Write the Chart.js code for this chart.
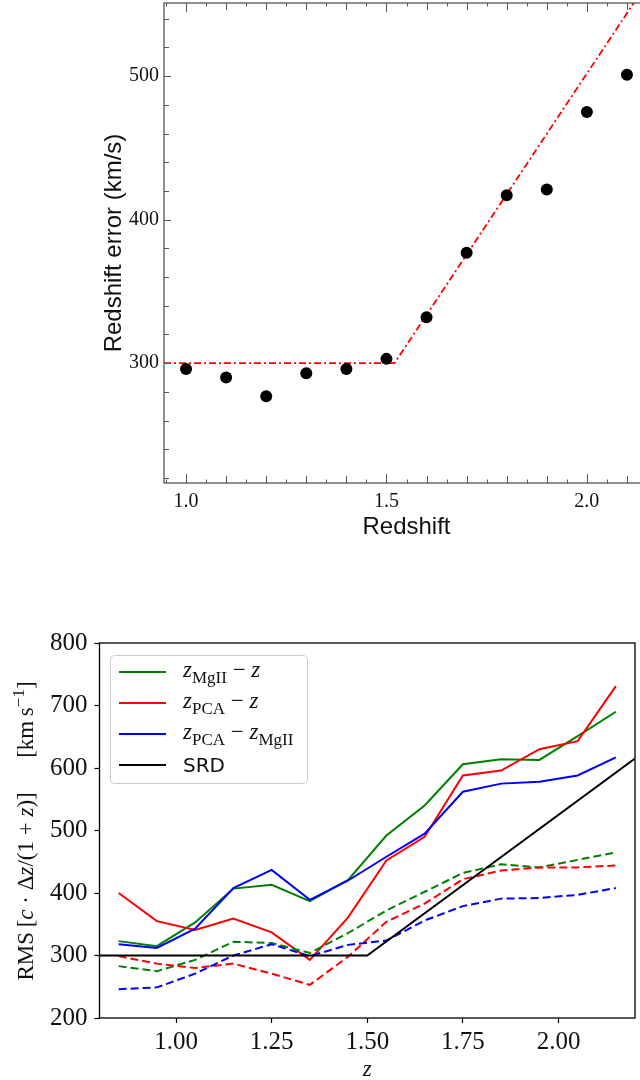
<!DOCTYPE html>
<html>
<head>
<meta charset="utf-8">
<script src="https://cdn.jsdelivr.net/npm/chart.js@4.4.0/dist/chart.umd.min.js"></script>
<style>
  body { margin: 0; background: #fff; width: 640px; height: 1080px; overflow: hidden; position: relative; }
  #wrapTop { position: absolute; left: 0; top: 0; width: 640px; height: 545px; overflow: hidden; }
  #wrapBot { position: absolute; left: 0; top: 545px; width: 640px; height: 535px; }
</style>
</head>
<body>
<div id="wrapTop"><canvas id="chartTop" width="660" height="545"></canvas></div>
<div id="wrapBot"><canvas id="chartBot" width="640" height="535"></canvas></div>
<script>
// top panel: redshift error vs redshift
const zTop = [1.0, 1.1, 1.2, 1.3, 1.4, 1.5, 1.6, 1.7, 1.8, 1.9, 2.0, 2.1];
const errTop = [296, 290, 277, 293, 296, 303, 332, 377, 417, 421, 475, 501];
const fitZ = [0.945, 1.52, 2.155];
const fitErr = [300, 300, 567];
const xTicksTop = [1.0, 1.5, 2.0];
const xLabelsTop = ['1.0', '1.5', '2.0'];
const yTicksTop = [300, 400, 500];
const yLabelsTop = ['300', '400', '500'];

// bottom panel: RMS per redshift bin
const zBins = [0.85, 0.95, 1.05, 1.15, 1.25, 1.35, 1.45, 1.55, 1.65, 1.75, 1.85, 1.95, 2.05, 2.15];
const rmsMgII = [323, 315, 353, 407, 413, 387, 421, 492, 540, 606, 614, 613, 651, 690];
const rmsPCA = [400, 355, 341, 359, 337, 293, 361, 452, 490, 588, 596, 630, 643, 731];
const rmsPCAMgII = [318, 312, 343, 408, 437, 389, 420, 458, 495, 562, 575, 578, 588, 617];
const rmsMgIIDash = [283, 275, 293, 322, 320, 304, 336, 372, 402, 432, 446, 441, 453, 465];
const rmsPCADash = [299, 287, 280, 287, 271, 253, 298, 354, 383, 422, 436, 441, 441, 444];
const rmsPCAMgIIDash = [246, 249, 271, 300, 318, 299, 317, 324, 356, 379, 391, 392, 397, 408];
const srdZ = [0.8, 1.5, 2.2];
const srdRms = [300, 300, 615];
const xTicksBot = [1.0, 1.25, 1.5, 1.75, 2.0];
const xLabelsBot = ['1.00', '1.25', '1.50', '1.75', '2.00'];
const yTicksBot = [200, 300, 400, 500, 600, 700, 800];
const yLabelsBot = ['200', '300', '400', '500', '600', '700', '800'];

const GREEN = '#008000', RED = '#ff0000', BLUE = '#0000ff';
const SERIF = '"Liberation Serif", "DejaVu Serif", serif';

function pts(xs, ys) {
  return xs.map((x, i) => ({ x: x, y: ys[i] }));
}

// draws a label made of pieces (italic, subscript, superscript)
function richWidth(ctx, parts, size) {
  let w = 0;
  parts.forEach(p => { ctx.font = partFont(p, size); w += ctx.measureText(p.t).width; });
  return w;
}
function partFont(p, size) {
  const small = p.s === 'sub' || p.s === 'sup';
  const sz = small ? Math.round(size * 0.72) : size;
  return (p.s === 'it' ? 'italic ' : '') + sz + 'px ' + SERIF;
}
function drawRich(ctx, parts, x, y, size) {
  let cx = x;
  parts.forEach(p => {
    ctx.font = partFont(p, size);
    let dy = 0;
    if (p.s === 'sub') dy = size * 0.28;
    if (p.s === 'sup') dy = -size * 0.4;
    ctx.fillText(p.t, cx, y + dy);
    cx += ctx.measureText(p.t).width;
  });
}

// no edge padding: the labels are not at the axis ends
function noPad(s) {
  s.paddingTop = 0; s.paddingBottom = 0; s.paddingLeft = 0; s.paddingRight = 0;
}

const topPlugin = {
  id: 'topFrame',
  afterDatasetsDraw(chart) {
    const { ctx, chartArea: a, scales: { x, y } } = chart;
    ctx.save();
    ctx.strokeStyle = '#555';
    ctx.lineWidth = 1.3;
    ctx.strokeRect(a.left, a.top, a.right - a.left, a.bottom - a.top);
    ctx.beginPath();
    ctx.lineWidth = 1;
    for (let i = 19; i <= 43; i++) {
      const v = i * 0.05;
      if (v < x.min || v > x.max) continue;
      const px = Math.round(x.getPixelForValue(v)) + 0.5;
      const len = i % 10 === 0 ? 9 : (i % 2 === 0 ? 7 : 3.5);
      ctx.moveTo(px, a.bottom); ctx.lineTo(px, a.bottom - len);
      ctx.moveTo(px, a.top); ctx.lineTo(px, a.top + len);
    }
    for (let v = 220; v <= 540; v += 20) {
      const py = Math.round(y.getPixelForValue(v)) + 0.5;
      const len = v % 100 === 0 ? 7 : 5;
      ctx.moveTo(a.left, py); ctx.lineTo(a.left + len, py);
      ctx.moveTo(a.right, py); ctx.lineTo(a.right - len, py);
    }
    ctx.stroke();

    ctx.fillStyle = '#111';
    ctx.font = '24px "Liberation Sans", Arial, sans-serif';
    ctx.textAlign = 'center';
    ctx.textBaseline = 'middle';
    ctx.fillText('Redshift', (a.left + a.right) / 2, a.bottom + 44);
    ctx.translate(114, (a.top + a.bottom) / 2);
    ctx.rotate(-Math.PI / 2);
    ctx.fillText('Redshift error (km/s)', 0, 0);
    ctx.restore();
  }
};

new Chart(document.getElementById('chartTop'), {
  type: 'scatter',
  data: {
    datasets: [
      {
        data: pts(zTop, errTop),
        pointRadius: 6,
        pointBackgroundColor: '#000',
        pointBorderWidth: 0,
        showLine: false
      },
      {
        data: pts(fitZ, fitErr),
        showLine: true,
        borderColor: RED,
        borderWidth: 1.8,
        borderDash: [7, 3, 2, 3],
        pointRadius: 0,
        tension: 0
      }
    ]
  },
  options: {
    responsive: false,
    animation: false,
    devicePixelRatio: 1,
    layout: { autoPadding: false, padding: { left: 0, right: 11, top: 3, bottom: 0 } },
    plugins: { legend: { display: false }, tooltip: { enabled: false } },
    scales: {
      x: {
        type: 'linear', min: 0.945, max: 2.155,
        afterBuildTicks: s => { s.ticks = xTicksTop.map(v => ({ value: v })); },
        afterFit: s => { s.height = 62; noPad(s); },
        grid: { display: false, drawTicks: false }, border: { display: false },
        ticks: {
          padding: 7, color: '#111', font: { family: SERIF, size: 20 },
          callback: (v, i) => xLabelsTop[i]
        }
      },
      y: {
        type: 'linear', min: 216.5, max: 551,
        afterBuildTicks: s => { s.ticks = yTicksTop.map(v => ({ value: v })); },
        afterFit: s => { s.width = 164; noPad(s); },
        grid: { display: false, drawTicks: false }, border: { display: false },
        ticks: {
          padding: 5, color: '#111', font: { family: SERIF, size: 20 },
          callback: (v, i) => yLabelsTop[i]
        }
      }
    }
  },
  plugins: [topPlugin]
});

const legendItems = [
  { color: GREEN, parts: [{ t: 'z', s: 'it' }, { t: 'MgII', s: 'sub' }, { t: ' \u2212 ' }, { t: 'z', s: 'it' }] },
  { color: RED, parts: [{ t: 'z', s: 'it' }, { t: 'PCA', s: 'sub' }, { t: ' \u2212 ' }, { t: 'z', s: 'it' }] },
  { color: BLUE, parts: [{ t: 'z', s: 'it' }, { t: 'PCA', s: 'sub' }, { t: ' \u2212 ' }, { t: 'z', s: 'it' }, { t: 'MgII', s: 'sub' }] },
  { color: '#000', text: 'SRD' }
];

const yTitleParts = [
  { t: 'RMS\u2009[' }, { t: 'c', s: 'it' }, { t: ' \u00b7 \u0394' }, { t: 'z', s: 'it' }, { t: '/(1 + ' },
  { t: 'z', s: 'it' }, { t: ')]' }, { t: '\u2003\u2002[km\u2009s' }, { t: '\u22121', s: 'sup' }, { t: ']' }
];

const botPlugin = {
  id: 'botFrame',
  afterDatasetsDraw(chart) {
    const { ctx, chartArea: a } = chart;
    ctx.save();
    ctx.strokeStyle = '#000';
    ctx.lineWidth = 1.3;
    ctx.strokeRect(a.left, a.top, a.right - a.left, a.bottom - a.top);

    // legend box
    ctx.beginPath();
    ctx.roundRect(110.5, 110.5, 197, 128, 4);
    ctx.fillStyle = 'rgba(255,255,255,0.8)';
    ctx.fill();
    ctx.strokeStyle = '#cccccc';
    ctx.lineWidth = 1;
    ctx.stroke();
    legendItems.forEach((it, i) => {
      const ly = 127 + i * 31;
      ctx.beginPath();
      ctx.strokeStyle = it.color;
      ctx.lineWidth = 2;
      ctx.moveTo(119, ly); ctx.lineTo(166, ly);
      ctx.stroke();
      ctx.fillStyle = '#111';
      ctx.textAlign = 'left';
      ctx.textBaseline = 'alphabetic';
      if (it.text) {
        ctx.font = '20px "DejaVu Sans", sans-serif';
        ctx.fillText(it.text, 183, ly + 7);
      } else {
        drawRich(ctx, it.parts, 183, ly + 5, 23);
      }
    });

    // axis titles
    ctx.fillStyle = '#111';
    ctx.textAlign = 'left';
    ctx.textBaseline = 'alphabetic';
    ctx.font = 'italic 23px ' + SERIF;
    const zw = ctx.measureText('z').width;
    ctx.fillText('z', (a.left + a.right) / 2 - zw / 2, a.bottom + 58);

    const tw = richWidth(ctx, yTitleParts, 23);
    ctx.translate(33, 286);
    ctx.rotate(-Math.PI / 2);
    drawRich(ctx, yTitleParts, -tw / 2, 0, 23);
    ctx.restore();
  }
};

function line(ys, color, dashed) {
  return {
    data: pts(zBins, ys),
    showLine: true,
    borderColor: color,
    borderWidth: 2,
    borderDash: dashed ? [8, 4] : [],
    pointRadius: 0,
    tension: 0
  };
}

new Chart(document.getElementById('chartBot'), {
  type: 'scatter',
  data: {
    datasets: [
      { data: pts(srdZ, srdRms), showLine: true, borderColor: '#000', borderWidth: 2, pointRadius: 0 },
      line(rmsPCAMgIIDash, BLUE, true),
      line(rmsPCADash, RED, true),
      line(rmsMgIIDash, GREEN, true),
      line(rmsPCAMgII, BLUE, false),
      line(rmsPCA, RED, false),
      line(rmsMgII, GREEN, false)
    ]
  },
  options: {
    responsive: false,
    animation: false,
    devicePixelRatio: 1,
    layout: { autoPadding: false, padding: { left: 0, right: 5, top: 98, bottom: 0 } },
    plugins: { legend: { display: false }, tooltip: { enabled: false } },
    scales: {
      x: {
        type: 'linear', min: 0.8, max: 2.2,
        afterBuildTicks: s => { s.ticks = xTicksBot.map(v => ({ value: v })); },
        afterFit: s => { s.height = 62; },
        grid: { display: true, drawOnChartArea: false, drawTicks: true, tickLength: 5, tickWidth: 1.2, tickColor: '#000' },
        border: { display: false },
        ticks: {
          padding: 4, color: '#111', font: { family: SERIF, size: 25 },
          callback: (v, i) => xLabelsBot[i]
        }
      },
      y: {
        type: 'linear', min: 200, max: 800,
        afterBuildTicks: s => { s.ticks = yTicksBot.map(v => ({ value: v })); },
        afterFit: s => { s.width = 99.5; },
        grid: { display: true, drawOnChartArea: false, drawTicks: true, tickLength: 5, tickWidth: 1.2, tickColor: '#000' },
        border: { display: false },
        ticks: {
          padding: 7, color: '#111', font: { family: SERIF, size: 25 },
          callback: (v, i) => yLabelsBot[i]
        }
      }
    }
  },
  plugins: [botPlugin]
});
</script>
</body>
</html>
